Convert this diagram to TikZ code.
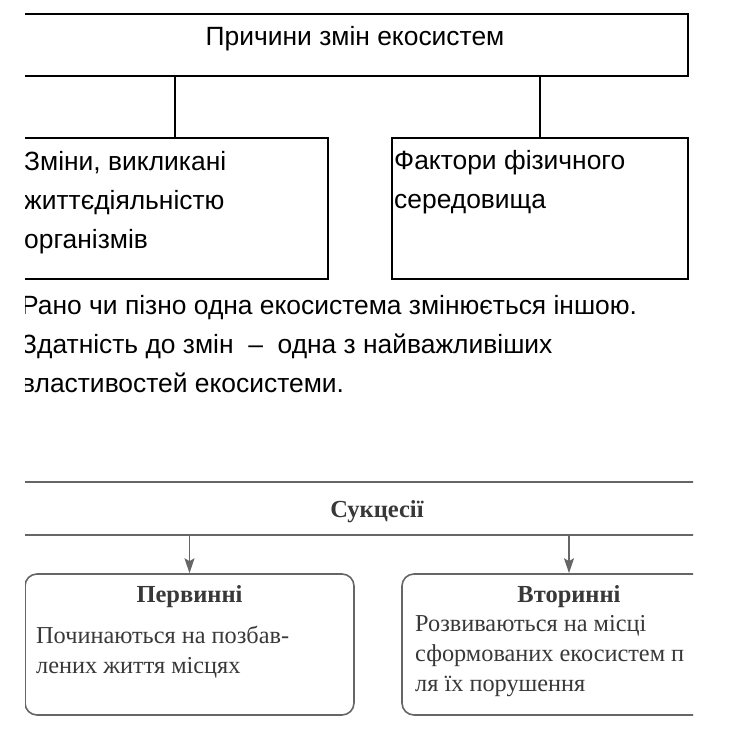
\documentclass[tikz,border=0pt]{standalone}
\usepackage{fontspec}
\newfontfamily\sansfont{Liberation Sans}
\newfontfamily\seriffont{Liberation Serif}
\usepackage{tikz}
\usetikzlibrary{arrows.meta}
\usepackage{xcolor}
\definecolor{succgray}{HTML}{666666}
\definecolor{succtext}{HTML}{383838}

\begin{document}
\begin{tikzpicture}[x=1pt, y=-1pt,
    topbox/.style={draw=black, line width=2.3pt, rectangle, inner sep=0pt},
    toptext/.style={font=\sansfont\fontsize{26.4}{39}\selectfont, inner sep=0pt, align=left},
    succbox/.style={draw=succgray, line width=1.6pt, rectangle, inner sep=0pt},
    succtitle/.style={font=\seriffont\bfseries\fontsize{24.5}{28}\selectfont, text=succtext, inner sep=0pt},
    succbody/.style={font=\seriffont\fontsize{24.3}{30}\selectfont, text=succtext, inner sep=0pt, align=left},
    succarrow/.style={draw=succgray, line width=1.2pt, -{Stealth[length=15pt, width=10pt, inset=3pt]}}]

      \useasboundingbox (0, 0) rectangle (748, 740);
      \clip (25, 0) rectangle (693, 740);

      \node[topbox, minimum width=666pt, minimum height=62pt, text height=10pt, text depth=10pt,
            font=\sansfont\fontsize{26.4}{30}\selectfont] (causes) at (355, 45) {Причини змін екосистем};

      \node[topbox, minimum width=306pt, minimum height=141pt] (living) at (175, 208.5) {};
      \node[topbox, minimum width=296pt, minimum height=141pt] (physical) at (540, 208.5) {};

      \draw[line width=1.2pt] (causes.south -| living.north) -- (living.north);
      \draw[line width=1.2pt] (causes.south -| physical.north) -- (physical.north);

      \node[toptext, anchor=base west] (livingtext) at (24, 248) {Зміни, викликані\\життєдіяльністю\\організмів};
      \node[toptext, anchor=base west] (physicaltext) at (394, 208) {Фактори фізичного\\середовища};

      \node[toptext, anchor=base west] (remark) at (21, 392) {Рано чи пізно одна екосистема змінюється іншою.\\Здатність до змін~~–~~одна з найважливіших\\властивостей екосистеми.};

      \node[succbox, minimum width=710pt, minimum height=53pt, text height=17pt, text depth=0pt,
            font=\seriffont\bfseries\fontsize{24.5}{28}\selectfont, text=succtext] (succ) at (377, 508.5) {Сукцесії};

      \node[succbox, rounded corners=12pt, minimum width=329pt, minimum height=141pt] (primary) at (189.5, 644.5) {};
      \node[succbox, rounded corners=12pt, minimum width=334pt, minimum height=141pt] (secondary) at (569, 644.5) {};

      \draw[succarrow] (succ.south -| primary.north) -- (primary.north);
      \draw[succarrow] (succ.south -| secondary.north) -- (secondary.north);

      \node[succtitle, anchor=base] (primarytitle) at ([yshift=-29pt]primary.north) {Первинні};
      \node[succtitle, anchor=base] (secondarytitle) at ([yshift=-29pt]secondary.north) {Вторинні};

      \node[succbody, anchor=base west] (primarytext) at (36, 673) {Починаються на позбав-\\лених життя місцях};
      \node[succbody, anchor=base west] (secondarytext) at (415, 691) {Розвиваються на місці\\сформованих екосистем п\\ля їх порушення};

    \end{tikzpicture}
\end{document}
